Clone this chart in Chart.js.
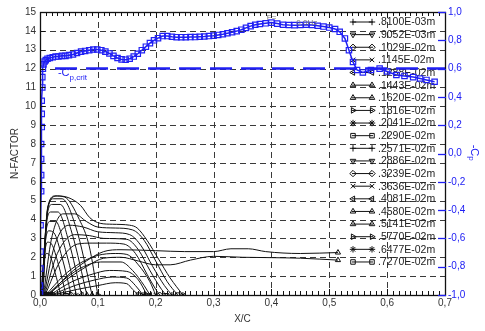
<!DOCTYPE html>
<html><head><meta charset="utf-8">
<script src="https://cdn.jsdelivr.net/npm/chart.js@4/dist/chart.umd.min.js"></script>
<style>html,body{margin:0;padding:0;background:#fff;overflow:hidden}</style>
</head><body>
<canvas id="c" width="485" height="331"></canvas>
<script>
// ---------- tick labels ----------
const xTickLabels = ['0,0','0,1','0,2','0,3','0,4','0,5','0,6','0,7'];
const nTickLabels = ['0','1','2','3','4','5','6','7','8','9','10','11','12','13','14','15'];
const cpTickLabels = ['-1,0','-0,8','-0,6','-0,4','-0,2','0,0','0,2','0,4','0,6','0,8','1,0'];

// ---------- legend labels (disturbance wavelength) ----------
const wavelengths = ['.8100E-03m','.9052E-03m','.1029E-02m','.1145E-02m','.1288E-02m',
  '.1443E-02m','.1620E-02m','.1816E-02m','.2041E-02m','.2290E-02m','.2571E-02m',
  '.2886E-02m','.3239E-02m','.3636E-02m','.4081E-02m','.4580E-02m','.5141E-02m',
  '.5770E-02m','.6477E-02m','.7270E-02m'];

// ---------- N-factor curves (x/c, N) ----------
const x00=[0.002,0.006,0.011,0.017,0.026,0.036], n00=[0,1.5,2.2,2.1,1.2,0];
const x01=[0.002,0.007,0.013,0.020,0.032,0.045], n01=[0,2.0,2.8,2.7,1.6,0];
const x02=[0.003,0.008,0.015,0.024,0.038,0.054], n02=[0,2.5,3.4,3.3,2.0,0];
const x03=[0.003,0.009,0.017,0.027,0.044,0.063], n03=[0,3.0,3.9,3.9,2.4,0];
const x04=[0.003,0.010,0.019,0.031,0.050,0.072], n04=[0,3.5,4.4,4.4,2.8,0];
const x05=[0.004,0.011,0.021,0.035,0.056,0.081], n05=[0,3.9,4.8,4.8,3.2,0];
const x06=[0.004,0.012,0.023,0.038,0.062,0.090], n06=[0,4.3,5.1,5.1,3.6,0];
const x07=[0.005,0.013,0.026,0.042,0.068,0.085,0.100], n07=[0,4.6,5.25,5.2,4.0,2.6,0];
const x08=[0.005,0.014,0.030,0.050,0.070,0.086,0.104,0.125,0.155,0.168,0.185,0.205,0.225,0.247], n08=[0,4.7,5.25,5.15,4.75,4.1,3.8,3.75,3.7,3.55,2.9,1.9,0.9,0];
const x09=[0.006,0.020,0.040,0.060,0.080,0.100,0.130,0.160,0.180,0.200,0.220,0.238], n09=[0,3.0,4.3,4.3,3.9,3.6,3.55,3.45,2.9,1.8,0.7,0];
const x10=[0.007,0.025,0.050,0.075,0.100,0.130,0.155,0.175,0.195,0.215,0.228], n10=[0,2.6,3.7,3.6,3.35,3.3,3.2,2.6,1.5,0.5,0];
const x11=[0.008,0.030,0.060,0.085,0.110,0.150,0.170,0.190,0.210,0.218], n11=[0,2.2,3.2,3.15,3.0,2.95,2.4,1.3,0.3,0];
const x12=[0.009,0.035,0.065,0.090,0.115,0.145,0.165,0.185,0.200,0.207], n12=[0,1.8,2.7,2.75,2.75,2.7,2.2,1.1,0.3,0];
const x13=[0.010,0.040,0.070,0.100,0.130,0.150,0.170,0.190,0.200], n13=[0,1.0,1.7,2.1,2.2,2.15,1.6,0.7,0];
const x14=[0.012,0.045,0.075,0.105,0.140,0.160,0.180,0.190], n14=[0,0.9,1.5,1.75,1.75,1.3,0.5,0];
const x15=[0.013,0.050,0.080,0.110,0.140,0.170,0.200,0.225,0.260,0.300,0.350,0.400,0.450,0.515], n15=[0,0.9,1.5,1.95,2.0,1.8,1.6,1.6,1.85,2.05,2.0,1.98,1.95,1.85];
const x16=[0.015,0.050,0.080,0.110,0.140,0.200,0.250,0.300,0.330,0.360,0.390,0.450,0.515], n16=[0,1.1,1.8,2.3,2.4,2.35,2.3,2.3,2.45,2.45,2.3,2.2,2.25];
const x17=[0.017,0.055,0.090,0.120,0.150,0.170,0.185], n17=[0,0.7,1.1,1.3,1.25,0.8,0];
const x18=[0.020,0.060,0.095,0.125,0.150,0.165,0.178], n18=[0,0.5,0.8,0.95,0.9,0.5,0];
const x19=[0.022,0.065,0.100,0.130,0.150,0.160,0.170], n19=[0,0.3,0.5,0.65,0.6,0.3,0];

const curveX = [x00,x01,x02,x03,x04,x05,x06,x07,x08,x09,x10,x11,x12,x13,x14,x15,x16,x17,x18,x19];
const curveN = [n00,n01,n02,n03,n04,n05,n06,n07,n08,n09,n10,n11,n12,n13,n14,n15,n16,n17,n18,n19];

// ---------- pressure distribution -Cp ----------
const cpX = [0.000,0.000,0.001,0.001,0.001,0.002,0.002,0.002,0.002,0.003,0.003,0.003,0.004,0.004,0.005,0.006,0.008,0.010,0.013,0.017,
  0.022,0.027,0.032,0.038,0.044,0.050,0.057,0.064,0.071,0.078,0.085,0.092,0.099,0.106,0.113,0.120,0.127,0.134,0.141,0.148,
  0.155,0.162,0.169,0.176,0.183,0.190,0.197,0.204,0.212,0.220,0.228,0.236,0.244,0.252,0.260,0.268,0.276,0.284,0.292,0.300,
  0.308,0.316,0.324,0.332,0.340,0.348,0.356,0.364,0.372,0.380,0.390,0.400,0.410,0.420,0.430,0.440,0.450,0.460,0.470,0.480,
  0.490,0.500,0.510,0.518,0.527,0.534,0.541,0.548,0.558,0.572,0.587,0.600,0.616,0.630,0.645,0.657,0.668,0.682];
const cpY = [-0.987,-0.933,-0.813,-0.693,-0.507,-0.267,-0.153,-0.040,0.067,0.187,0.280,0.373,0.467,0.540,0.600,0.630,0.650,0.660,0.670,0.675,
  0.680,0.685,0.685,0.690,0.690,0.695,0.700,0.710,0.720,0.725,0.730,0.735,0.735,0.730,0.720,0.707,0.690,0.675,0.665,0.663,
  0.670,0.685,0.705,0.730,0.755,0.780,0.800,0.815,0.830,0.830,0.825,0.822,0.822,0.822,0.823,0.823,0.825,0.827,0.830,0.833,
  0.838,0.843,0.850,0.857,0.865,0.875,0.888,0.900,0.910,0.915,0.920,0.925,0.918,0.910,0.908,0.907,0.908,0.910,0.908,0.903,
  0.897,0.890,0.880,0.860,0.813,0.730,0.647,0.590,0.573,0.590,0.600,0.580,0.555,0.548,0.540,0.530,0.520,0.507];
const cpCritX = [0.026, 0.700];
const cpCritY = [0.6, 0.6];

// ---------- styles ----------
const BLUE = '#2020f4';
const markerStyles = [
  {s:'cross',r:0},{s:'triangle',r:180},{s:'rectRot',r:0},{s:'crossRot',r:0},{s:'triangle',r:270},
  {s:'triangle',r:0},{s:'triangle',r:0},{s:'triangle',r:90},{s:'star',r:0},{s:'rect',r:0}];

const datasets = [];
datasets.push({
  label:'-Cp', yAxisID:'y2', order:0,
  data: cpX.map((v,i)=>({x:v,y:cpY[i]})),
  borderColor:BLUE, borderWidth:1.5, pointStyle:'rect', pointRadius:3.8,
  pointBorderColor:BLUE, pointBackgroundColor:'rgba(0,0,0,0)', pointBorderWidth:1.2, tension:0
});
datasets.push({
  label:'-Cp,crit', yAxisID:'y2', order:0,
  data: cpCritX.map((v,i)=>({x:v,y:cpCritY[i]})),
  borderColor:BLUE, borderWidth:2.5, borderDash:[22,9], pointRadius:0
});
curveX.forEach((xs,k)=>{
  const m = markerStyles[k%10];
  const last = xs.length-1;
  datasets.push({
    label: wavelengths[k], yAxisID:'y', order:1,
    data: xs.map((v,i)=>({x:v,y:curveN[k][i]})),
    borderColor:'#111', borderWidth:1, cubicInterpolationMode:'monotone',
    pointStyle:m.s, rotation:m.r,
    pointRadius: c => (c.dataIndex===last || c.dataIndex===0) ? 3 : 0,
    pointBorderColor:'#111', pointBackgroundColor:'rgba(0,0,0,0)', pointBorderWidth:1,
    legendStyle:m
  });
});

function drawMarker(ctx, style, rot, r, x, y){
  ctx.fillStyle='rgba(0,0,0,0)';
  if (Chart.helpers && Chart.helpers.drawPoint) {
    Chart.helpers.drawPoint(ctx, {pointStyle:style, rotation:rot, radius:r, borderWidth:1}, x, y);
  } else {
    ctx.strokeRect(x-r, y-r, 2*r, 2*r);
  }
}

const deco = {
  id:'deco',
  beforeDatasetsDraw(chart){
    const {ctx, chartArea:a, scales} = chart;
    const xs = scales.x, ys = scales.y;
    ctx.save();
    // dashed grid
    ctx.strokeStyle='#3a3a3a'; ctx.lineWidth=1; ctx.setLineDash([6,4]);
    for (let k=1;k<xTickLabels.length-1;k++){
      const px = Math.round(xs.getPixelForValue(k/10))+0.5;
      ctx.beginPath(); ctx.moveTo(px,a.top); ctx.lineTo(px,a.bottom); ctx.stroke();
    }
    for (let k=1;k<nTickLabels.length-1;k++){
      const py = Math.round(ys.getPixelForValue(k))+0.5;
      ctx.beginPath(); ctx.moveTo(a.left,py); ctx.lineTo(a.right,py); ctx.stroke();
    }
    ctx.setLineDash([]);
    // legend
    ctx.textBaseline='middle'; ctx.textAlign='left';
    chart.data.datasets.forEach(ds=>{
      if(!ds.legendStyle) return;
      const k = wavelengths.indexOf(ds.label);
      const ly = 22 + k*12.63;
      ctx.strokeStyle='#111'; ctx.lineWidth=1;
      ctx.beginPath(); ctx.moveTo(352,ly); ctx.lineTo(373,ly); ctx.stroke();
      drawMarker(ctx, ds.legendStyle.s, ds.legendStyle.r, 3.2, 353, ly);
      drawMarker(ctx, ds.legendStyle.s, ds.legendStyle.r, 3.2, 372, ly);
      ctx.fillStyle='#222';
      ctx.font = '10.5px "Liberation Sans", Arial, sans-serif';
      ctx.fillText(ds.label, 378, ly+0.5);
    });
    ctx.restore();
  },
  afterDatasetsDraw(chart){
    const {ctx, chartArea:a, scales} = chart;
    const xs = scales.x, ys = scales.y, y2 = scales.y2;
    ctx.save();
    ctx.strokeStyle='#111'; ctx.lineWidth=1;
    // minor ticks top & bottom
    for (let k=0;k<=70;k++){
      const px = Math.round(xs.getPixelForValue(k/100))+0.5;
      const len = (k%10===0)?6:4;
      ctx.beginPath(); ctx.moveTo(px,a.bottom); ctx.lineTo(px,a.bottom-len);
      ctx.moveTo(px,a.top); ctx.lineTo(px,a.top+len); ctx.stroke();
    }
    for (let k=0;k<=15;k++){
      const py = Math.round(ys.getPixelForValue(k))+0.5;
      ctx.beginPath(); ctx.moveTo(a.left,py); ctx.lineTo(a.left+5,py); ctx.stroke();
    }
    // frame
    ctx.lineWidth=1.3;
    ctx.strokeRect(Math.round(a.left)+0.5, Math.round(a.top)+0.5, Math.round(a.right-a.left), Math.round(a.bottom-a.top));
    // right blue ticks
    ctx.strokeStyle=BLUE; ctx.lineWidth=1.3;
    for (let k=0;k<cpTickLabels.length;k++){
      const py = Math.round(y2.getPixelForValue(-1+0.2*k))+0.5;
      ctx.beginPath(); ctx.moveTo(a.right-7,py); ctx.lineTo(a.right+1,py); ctx.stroke();
    }
    // -Cp,crit label
    ctx.fillStyle=BLUE; ctx.textBaseline='alphabetic'; ctx.textAlign='left';
    const lx = xs.getPixelForValue(0.031), lyy = y2.getPixelForValue(0.545);
    ctx.font='11px "Liberation Sans", Arial, sans-serif';
    ctx.fillText('-C', lx, lyy);
    const w = ctx.measureText('-C').width;
    ctx.font='8px "Liberation Sans", Arial, sans-serif';
    ctx.fillText('p,crit', lx+w, lyy+4);
    // frequency label
    ctx.fillStyle='#777'; ctx.font='8px "Liberation Sans", Arial, sans-serif';
    ctx.fillText('F=', xs.getPixelForValue(0.392), ys.getPixelForValue(14.55));
    ctx.fillText('0,0Hz', xs.getPixelForValue(0.443), ys.getPixelForValue(14.3));
    // right axis title -Cp (rotated)
    ctx.fillStyle=BLUE;
    ctx.translate(474, (a.top+a.bottom)/2);
    ctx.rotate(Math.PI/2);
    ctx.textAlign='left'; ctx.textBaseline='middle';
    ctx.font='11px "Liberation Sans", Arial, sans-serif';
    const tw = ctx.measureText('-C').width;
    ctx.fillText('-C', -tw/2-3, 0);
    ctx.font='8px "Liberation Sans", Arial, sans-serif';
    ctx.fillText('p', tw/2-3, 3);
    ctx.restore();
  }
};

const tickFont = {family:'"Liberation Sans", Arial, sans-serif', size:10};
new Chart(document.getElementById('c'), {
  type:'line',
  data:{datasets},
  options:{
    responsive:false, animation:false, devicePixelRatio:1,
    layout:{padding:{top:12,left:0,right:0,bottom:0}},
    plugins:{legend:{display:false}, tooltip:{enabled:false}},
    scales:{
      x:{type:'linear', min:0, max:0.7,
        ticks:{stepSize:0.1, autoSkip:false, maxRotation:0, color:'#333', font:tickFont, padding:2,
          callback:(v,i)=>xTickLabels[i]},
        grid:{display:false, drawTicks:false}, border:{display:false},
        title:{display:true, text:'X/C', color:'#333', font:tickFont, padding:{top:3,bottom:6}},
        afterFit:s=>{s.height=36;}},
      y:{type:'linear', position:'left', min:0, max:15,
        ticks:{stepSize:1, autoSkip:false, color:'#333', font:tickFont, padding:4,
          callback:(v,i)=>nTickLabels[i]},
        grid:{display:false, drawTicks:false}, border:{display:false},
        title:{display:true, text:'N-FACTOR', color:'#333', font:tickFont, padding:{top:9,bottom:0}},
        afterFit:s=>{s.width=40;}},
      y2:{type:'linear', position:'right', min:-1, max:1,
        ticks:{stepSize:0.2, autoSkip:false, color:BLUE, font:tickFont, padding:3,
          callback:(v,i)=>cpTickLabels[i]},
        grid:{display:false, drawTicks:false}, border:{display:false},
        afterFit:s=>{s.width=40;}}
    }
  },
  plugins:[deco]
});
</script>
</body></html>
